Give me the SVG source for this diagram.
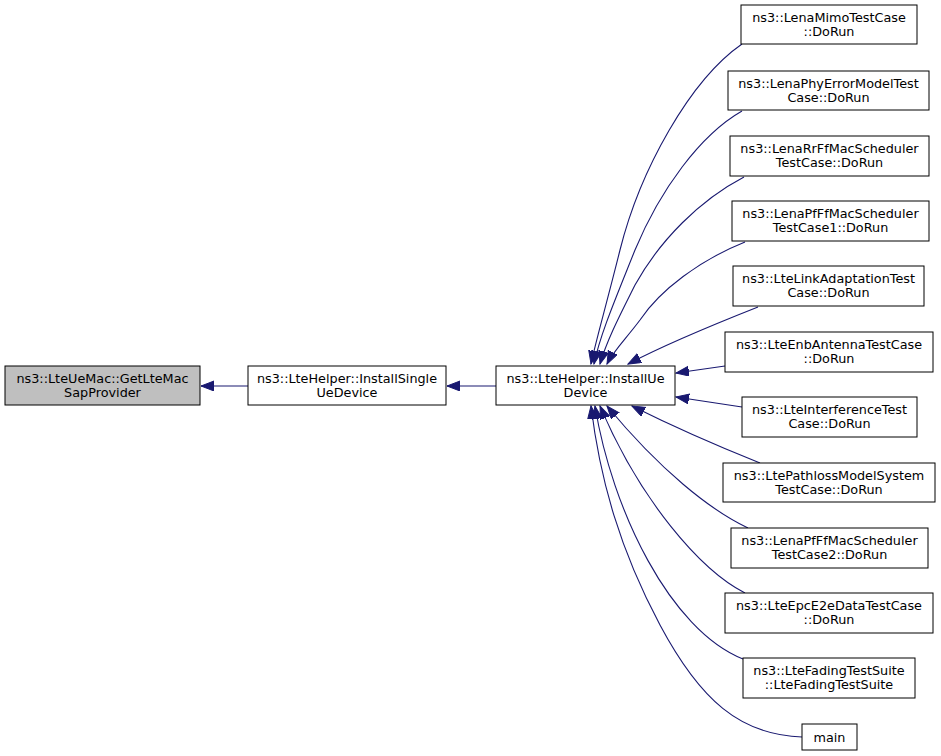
<svg xmlns="http://www.w3.org/2000/svg" width="941" height="756" viewBox="0 0 941 756">
<defs>
<style>
.n rect{fill:#ffffff;stroke:#000000;stroke-width:1}
.n.hl rect{fill:#bfbfbf}
.n text{font-family:"DejaVu Sans","Liberation Sans",sans-serif;font-size:12.8px;text-anchor:middle;fill:#000000}
.e path{fill:none;stroke:#191970;stroke-width:1.1}
</style>
<marker id="ah" markerWidth="14" markerHeight="12" refX="13" refY="5" orient="auto" markerUnits="userSpaceOnUse">
<path d="M0,0 L13,5 L0,10 z" fill="#191970" stroke="#191970" stroke-width="1"/>
</marker>
</defs>
<rect width="941" height="756" fill="#ffffff"/>
<g id="edges" class="e">
<path d="M248,386 L201,386" marker-end="url(#ah)"/>
<path d="M496,386 L447,386" marker-end="url(#ah)"/>
<path d="M742,44 C690,80 640,170 620,250 C605,310 596,340 591,364" marker-end="url(#ah)"/>
<path d="M742,111 C700,135 660,190 635,250 C615,300 600,335 594,364" marker-end="url(#ah)"/>
<path d="M744,177 C700,200 660,240 635,285 C620,315 607,340 600,364" marker-end="url(#ah)"/>
<path d="M745,242 C700,260 660,290 640,320 C625,340 614,350 607,364" marker-end="url(#ah)"/>
<path d="M758,307 C720,322 670,342 628,364" marker-end="url(#ah)"/>
<path d="M725,366 L676,373" marker-end="url(#ah)"/>
<path d="M742,407 L676,397" marker-end="url(#ah)"/>
<path d="M760,463 C720,447 670,425 632,406" marker-end="url(#ah)"/>
<path d="M748,528 C710,510 660,470 607,406" marker-end="url(#ah)"/>
<path d="M745,593 C700,570 640,500 600,406" marker-end="url(#ah)"/>
<path d="M743,659 C670,630 612,510 595,406" marker-end="url(#ah)"/>
<path d="M802,737 C740,735 700,700 660,625 C620,550 600,480 591,406" marker-end="url(#ah)"/>
</g>
<g id="n1" class="n hl"><rect x="5" y="366" width="195" height="39"/><text x="102.5" y="383">ns3::LteUeMac::GetLteMac</text><text x="102.5" y="397">SapProvider</text></g>
<g id="n2" class="n"><rect x="248" y="366" width="198" height="39"/><text x="347" y="383">ns3::LteHelper::InstallSingle</text><text x="347" y="397">UeDevice</text></g>
<g id="n3" class="n"><rect x="496" y="366" width="179" height="39"/><text x="585.5" y="383">ns3::LteHelper::InstallUe</text><text x="585.5" y="397">Device</text></g>
<g id="n4" class="n"><rect x="741" y="5" width="176" height="39"/><text x="829" y="22">ns3::LenaMimoTestCase</text><text x="829" y="36">::DoRun</text></g>
<g id="n5" class="n"><rect x="728" y="71" width="201" height="39"/><text x="828.5" y="88">ns3::LenaPhyErrorModelTest</text><text x="828.5" y="102">Case::DoRun</text></g>
<g id="n6" class="n"><rect x="730" y="136" width="199" height="40"/><text x="829.5" y="153">ns3::LenaRrFfMacScheduler</text><text x="829.5" y="167">TestCase::DoRun</text></g>
<g id="n7" class="n"><rect x="732" y="201" width="197" height="40"/><text x="830.5" y="218">ns3::LenaPfFfMacScheduler</text><text x="830.5" y="232">TestCase1::DoRun</text></g>
<g id="n8" class="n"><rect x="733" y="266" width="191" height="40"/><text x="828.5" y="283">ns3::LteLinkAdaptationTest</text><text x="828.5" y="297">Case::DoRun</text></g>
<g id="n9" class="n"><rect x="725" y="332" width="208" height="40"/><text x="829" y="349">ns3::LteEnbAntennaTestCase</text><text x="829" y="363">::DoRun</text></g>
<g id="n10" class="n"><rect x="742" y="397" width="175" height="40"/><text x="829.5" y="414">ns3::LteInterferenceTest</text><text x="829.5" y="428">Case::DoRun</text></g>
<g id="n11" class="n"><rect x="723" y="463" width="212" height="39"/><text x="829" y="480">ns3::LtePathlossModelSystem</text><text x="829" y="494">TestCase::DoRun</text></g>
<g id="n12" class="n"><rect x="731" y="528" width="197" height="40"/><text x="829.5" y="545">ns3::LenaPfFfMacScheduler</text><text x="829.5" y="559">TestCase2::DoRun</text></g>
<g id="n13" class="n"><rect x="725" y="593" width="208" height="40"/><text x="829" y="610">ns3::LteEpcE2eDataTestCase</text><text x="829" y="624">::DoRun</text></g>
<g id="n14" class="n"><rect x="743" y="658" width="172" height="40"/><text x="829" y="675">ns3::LteFadingTestSuite</text><text x="829" y="689">::LteFadingTestSuite</text></g>
<g id="n15" class="n"><rect x="802" y="724" width="55" height="26"/><text x="829.5" y="742">main</text></g>
</svg>
